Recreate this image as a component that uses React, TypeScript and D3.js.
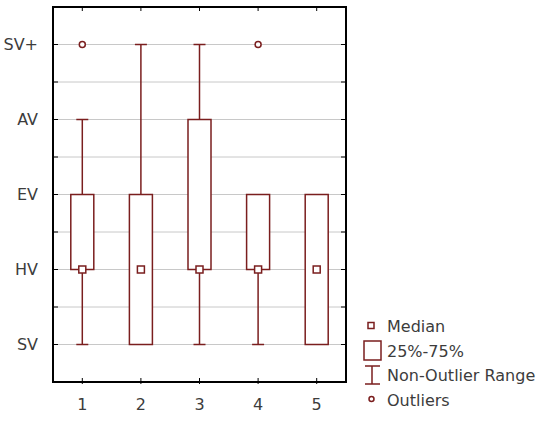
import React from 'react';
import * as d3 from 'd3';

const categories = ['1', '2', '3', '4', '5'];
const yLabels = ['SV', 'HV', 'EV', 'AV', 'SV+'];
const medians = [2, 2, 2, 2, 2];
const q1 = [2, 1, 2, 2, 1];
const q3 = [3, 3, 4, 3, 3];
const whiskerLow = [1, 1, 1, 1, 1];
const whiskerHigh = [4, 5, 5, 3, 3];
const outliers = [[5], [], [], [5], []];
const legendItems = ['Median', '25%-75%', 'Non-Outlier Range', 'Outliers'];

const W = 550, H = 423;
const margin = { top: 7, right: 204, bottom: 41, left: 53 };
const stroke = '#7a1e1e';
const textColor = '#3c3c3c';
const font = 'DejaVu Sans';

export default function App() {
  const x = d3.scaleLinear().domain([0.5, categories.length + 0.5]).range([margin.left, W - margin.right]);
  const y = d3.scaleLinear().domain([0.5, yLabels.length + 0.5]).range([H - margin.bottom, margin.top]);
  const gridVals = d3.range(1, yLabels.length + 0.01, 0.5);
  const boxW = 23, capW = 12, medS = 7;
  const [x0, x1] = x.range();
  const [y0, y1] = y.range();

  return (
    <svg width={W} height={H} style={{ position: 'absolute', left: 0, top: 0, background: '#fff' }}
      fontFamily={font}>
      {gridVals.map(v => (
        <line key={'g' + v} x1={x0} x2={x1} y1={y(v)} y2={y(v)} stroke="#c8c8c8" strokeWidth={1} />
      ))}
      {/* ticks inside frame */}
      {gridVals.map(v => (
        <g key={'t' + v} stroke="#000" strokeWidth={1}>
          <line x1={x0} x2={x0 + 5} y1={y(v)} y2={y(v)} />
          <line x1={x1 - 5} x2={x1} y1={y(v)} y2={y(v)} />
        </g>
      ))}
      {categories.map((c, i) => (
        <g key={'xt' + c} stroke="#000" strokeWidth={1}>
          <line x1={x(i + 1)} x2={x(i + 1)} y1={y1} y2={y1 + 4} />
          <line x1={x(i + 1)} x2={x(i + 1)} y1={y0 - 4} y2={y0 + 2} />
        </g>
      ))}
      <rect x={x0} y={y1} width={x1 - x0} height={y0 - y1} fill="none" stroke="#000" strokeWidth={2} />
      {yLabels.map((l, i) => (
        <text key={l} x={38} y={y(i + 1)} dy="0.36em" textAnchor="end" fontSize={16} fill={textColor}>{l}</text>
      ))}
      {categories.map((c, i) => (
        <text key={'xl' + c} x={x(i + 1)} y={404} dy="0.36em" textAnchor="middle" fontSize={16} fill={textColor}>{c}</text>
      ))}
      {categories.map((c, i) => {
        const cx = x(i + 1);
        return (
          <g key={'b' + c} stroke={stroke} strokeWidth={1.5} fill="none">
            {whiskerHigh[i] > q3[i] && (
              <g>
                <line x1={cx} x2={cx} y1={y(q3[i])} y2={y(whiskerHigh[i])} />
                <line x1={cx - capW / 2} x2={cx + capW / 2} y1={y(whiskerHigh[i])} y2={y(whiskerHigh[i])} />
              </g>
            )}
            {whiskerLow[i] < q1[i] && (
              <g>
                <line x1={cx} x2={cx} y1={y(q1[i])} y2={y(whiskerLow[i])} />
                <line x1={cx - capW / 2} x2={cx + capW / 2} y1={y(whiskerLow[i])} y2={y(whiskerLow[i])} />
              </g>
            )}
            <rect x={cx - boxW / 2} y={y(q3[i])} width={boxW} height={y(q1[i]) - y(q3[i])} fill="#fff" />
            <rect x={cx - medS / 2} y={y(medians[i]) - medS / 2} width={medS} height={medS} fill="#fff" />
            {outliers[i].map((o, k) => (
              <circle key={k} cx={cx} cy={y(o)} r={3} fill="#fff" />
            ))}
          </g>
        );
      })}
      {/* legend */}
      <g stroke={stroke} strokeWidth={1.5} fill="#fff">
        <rect x={368} y={322.5} width={6} height={6} />
        <rect x={364} y={341} width={17} height={19} />
        <line x1={372} x2={372} y1={366} y2={384} />
        <line x1={365} x2={380} y1={366} y2={366} />
        <line x1={365} x2={380} y1={384} y2={384} />
        <circle cx={371.5} cy={399} r={2.5} />
      </g>
      {legendItems.map((l, i) => (
        <text key={l} x={387} y={[326, 351, 375, 400][i]} dy="0.36em" fontSize={16} fill={textColor}>{l}</text>
      ))}
    </svg>
  );
}
